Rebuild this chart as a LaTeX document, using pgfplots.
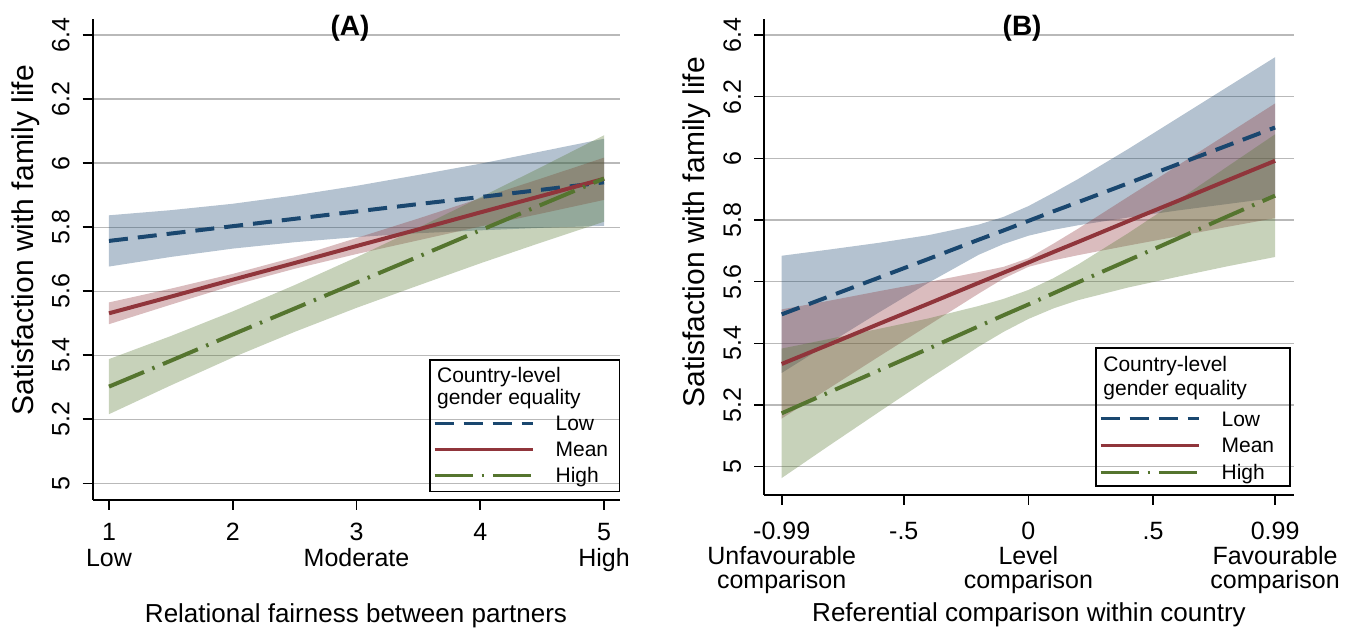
\documentclass[border=0pt]{standalone}
\usepackage{fontspec}
\setmainfont{Liberation Sans}
\usepackage{pgfplots}
\pgfplotsset{compat=1.18}
\usepackage{pgfplotstable}
\usepgfplotslibrary{fillbetween}
\definecolor{snavy}{RGB}{26,71,111}
\definecolor{smaroon}{RGB}{144,53,59}
\definecolor{sgreen}{RGB}{85,117,47}
\definecolor{sgrid}{RGB}{185,185,185}

% Panel A: x lo m hi
\pgfplotstableread{
x lo m hi
1 5.677 5.757 5.837
1.5 5.707 5.780 5.853
2 5.733 5.803 5.873
2.5 5.753 5.826 5.899
3 5.769 5.849 5.929
3.5 5.781 5.872 5.963
4 5.790 5.894 5.998
4.5 5.798 5.917 6.037
5 5.804 5.940 6.076
}\lowA
\pgfplotstableread{
x lo m hi
1 5.497 5.531 5.565
1.5 5.558 5.583 5.608
2 5.618 5.636 5.654
2.5 5.670 5.688 5.706
3 5.716 5.741 5.766
3.5 5.759 5.793 5.827
4 5.802 5.846 5.890
4.5 5.843 5.898 5.953
5 5.885 5.951 6.017
}\meanA
\pgfplotstableread{
x lo m hi
1 5.216 5.302 5.388
1.5 5.306 5.383 5.460
2 5.393 5.465 5.537
2.5 5.473 5.546 5.619
3 5.548 5.627 5.706
3.5 5.618 5.708 5.798
4 5.687 5.790 5.893
4.5 5.753 5.871 5.989
5 5.817 5.952 6.087
}\highA
% Panel B
\pgfplotstableread{
x lo m hi
-0.99 5.304 5.494 5.684
-0.8 5.400 5.552 5.704
-0.6 5.500 5.613 5.726
-0.4 5.597 5.674 5.751
-0.2 5.687 5.736 5.785
-0.1 5.722 5.766 5.810
0 5.749 5.797 5.845
0.1 5.768 5.828 5.888
0.2 5.783 5.858 5.933
0.4 5.808 5.919 6.030
0.6 5.831 5.981 6.131
0.8 5.852 6.042 6.232
0.99 5.872 6.100 6.328
}\lowB
\pgfplotstableread{
x lo m hi
-0.99 5.156 5.333 5.510
-0.8 5.254 5.396 5.538
-0.6 5.357 5.463 5.569
-0.4 5.459 5.529 5.599
-0.2 5.561 5.596 5.631
-0.1 5.610 5.629 5.648
0 5.648 5.662 5.676
0.1 5.669 5.696 5.723
0.2 5.686 5.729 5.772
0.4 5.717 5.796 5.875
0.6 5.747 5.862 5.977
0.8 5.778 5.929 6.080
0.99 5.806 5.992 6.178
}\meanB
\pgfplotstableread{
x lo m hi
-0.99 4.963 5.173 5.383
-0.8 5.068 5.241 5.414
-0.6 5.177 5.312 5.447
-0.4 5.285 5.383 5.481
-0.2 5.389 5.455 5.521
-0.1 5.437 5.491 5.544
0 5.479 5.526 5.573
0.1 5.513 5.562 5.611
0.2 5.540 5.598 5.656
0.4 5.581 5.669 5.757
0.6 5.616 5.740 5.864
0.8 5.650 5.812 5.974
0.99 5.680 5.879 6.078
}\highB

\pgfplotsset{
  stata/.style={
    scale only axis,
    clip mode=individual,
    axis x line*=bottom, axis y line*=left,
    axis line style={-, line width=1pt, black},
    tick align=outside, major tick length=5pt,
    tick style={black, line width=0.8pt},
    ymajorgrids, major grid style={sgrid, line width=0.6pt},
    ytick={5,5.2,5.4,5.6,5.8,6,6.2,6.4},
    /pgf/number format/assume math mode=true,
    yticklabel style={rotate=90, anchor=south, inner sep=0pt, font=\fontsize{12.5}{15}\selectfont},
    yticklabel shift=6.25pt,
    xticklabel style={align=center, anchor=north, inner sep=0pt},
    legend cell align=left,
    legend image code/.code={\draw[##1, line width=1.5pt] (0pt,0pt) -- (49pt,0pt);},
    title style={font=\bfseries\fontsize{14}{16}\selectfont, anchor=center, yshift=-6pt},
  },
  lowline/.style={snavy, line width=2pt, dash pattern=on 9.5pt off 5pt},
  meanline/.style={smaroon, line width=2pt},
  highline/.style={sgreen, line width=2pt, dash pattern=on 19pt off 4.5pt on 1.2pt off 4.5pt},
  band/.style={fill=#1, fill opacity=0.33, draw=none, forget plot},
}

\begin{document}
\begin{tikzpicture}

% ---------------- Panel A
\begin{axis}[stata,
  at={(46.25pt,67.5pt)}, anchor=south west,
  width=263.5pt, height=240.5pt,
  xmin=0.8667, xmax=5.125, ymin=4.948, ymax=6.45,
  xtick={1,2,3,4,5},
  xticklabels={{1\\Low},2,{3\\Moderate},4,{5\\High}},
  xticklabel style={font=\fontsize{12.5}{13}\selectfont},
  xticklabel shift=6.5pt,
  xlabel={Relational fairness between partners},
  x label style={at={(axis description cs:0.5,0)}, anchor=base, yshift=-61.5pt, font=\fontsize{13}{15}\selectfont},
  ylabel={Satisfaction with family life},
  y label style={at={(axis description cs:-0.1129,0.5405)}, anchor=base, font=\fontsize{15}{17}\selectfont},
  title={(A)},
  title style={at={(axis description cs:0.4886,0.981)}},
  legend style={at={(axis description cs:0.6461,0.1757)}, anchor=north west,
    draw=none, fill=none, inner sep=0pt, outer sep=0pt,
    row sep=5.4pt, column sep=10.8pt,
    font=\fontsize{10.5}{12}\selectfont,
    nodes={inner sep=0pt, text height=7.6pt, text depth=0pt}},
]
\addplot[draw=none, forget plot, name path=aLl] table[x=x,y=lo]{\lowA};
\addplot[draw=none, forget plot, name path=aLh] table[x=x,y=hi]{\lowA};
\addplot[band=snavy] fill between[of=aLl and aLh];
\addplot[draw=none, forget plot, name path=aMl] table[x=x,y=lo]{\meanA};
\addplot[draw=none, forget plot, name path=aMh] table[x=x,y=hi]{\meanA};
\addplot[band=smaroon] fill between[of=aMl and aMh];
\addplot[draw=none, forget plot, name path=aHl] table[x=x,y=lo]{\highA};
\addplot[draw=none, forget plot, name path=aHh] table[x=x,y=hi]{\highA};
\addplot[band=sgreen] fill between[of=aHl and aHh];
\addplot[lowline] table[x=x,y=m]{\lowA};
\addlegendentry{Low}
\addplot[meanline] table[x=x,y=m]{\meanA};
\addlegendentry{Mean}
\addplot[highline] table[x=x,y=m]{\highA};
\addlegendentry{High}
\draw[black, line width=0.8pt] (axis description cs:0.6404,0.0173) rectangle (axis description cs:1.0,0.2911);
\node[anchor=base west, inner sep=0pt, font=\fontsize{10.5}{12}\selectfont] at (axis description cs:0.6531,0.2453) {Country-level};
\node[anchor=base west, inner sep=0pt, font=\fontsize{10.5}{12}\selectfont] at (axis description cs:0.6531,0.1975) {gender equality};
\end{axis}

% ---------------- Panel B
\begin{axis}[stata,
  at={(382pt,70pt)}, anchor=south west,
  width=265pt, height=238pt,
  xmin=-1.061, xmax=1.066, ymin=4.908, ymax=6.452,
  xtick={-0.99,-0.5,0,0.5,0.99},
  xticklabels={{-0.99\\Unfavourable\\comparison},{-.5},{0\\Level\\comparison},{.5},{0.99\\Favourable\\comparison}},
  xticklabel style={font=\fontsize{12.5}{12.3}\selectfont},
  xticklabel shift=8.3pt,
  xlabel={Referential comparison within country},
  x label style={at={(axis description cs:0.5,0)}, anchor=base, yshift=-63.35pt, font=\fontsize{13}{15}\selectfont},
  ylabel={Satisfaction with family life},
  y label style={at={(axis description cs:-0.1123,0.5525)}, anchor=base, font=\fontsize{15}{17}\selectfont},
  title={(B)},
  title style={at={(axis description cs:0.487,0.981)}},
  legend style={at={(axis description cs:0.6321,0.1763)}, anchor=north west,
    draw=none, fill=none, inner sep=0pt, outer sep=0pt,
    row sep=5.75pt, column sep=10.8pt,
    font=\fontsize{10.5}{12}\selectfont,
    nodes={inner sep=0pt, text height=7.6pt, text depth=0pt}},
]
\addplot[draw=none, forget plot, name path=bLl] table[x=x,y=lo]{\lowB};
\addplot[draw=none, forget plot, name path=bLh] table[x=x,y=hi]{\lowB};
\addplot[band=snavy] fill between[of=bLl and bLh];
\addplot[draw=none, forget plot, name path=bMl] table[x=x,y=lo]{\meanB};
\addplot[draw=none, forget plot, name path=bMh] table[x=x,y=hi]{\meanB};
\addplot[band=smaroon] fill between[of=bMl and bMh];
\addplot[draw=none, forget plot, name path=bHl] table[x=x,y=lo]{\highB};
\addplot[draw=none, forget plot, name path=bHh] table[x=x,y=hi]{\highB};
\addplot[band=sgreen] fill between[of=bHl and bHh];
\addplot[lowline] table[x=x,y=m]{\lowB};
\addlegendentry{Low}
\addplot[meanline] table[x=x,y=m]{\meanB};
\addlegendentry{Mean}
\addplot[highline] table[x=x,y=m]{\highB};
\addlegendentry{High}
\draw[black, line width=0.8pt] (axis description cs:0.6264,0.0189) rectangle (axis description cs:0.9925,0.3088);
\node[anchor=base west, inner sep=0pt, font=\fontsize{10.5}{12}\selectfont] at (axis description cs:0.6396,0.2584) {Country-level};
\node[anchor=base west, inner sep=0pt, font=\fontsize{10.5}{12}\selectfont] at (axis description cs:0.6396,0.2080) {gender equality};
\end{axis}
\pgfresetboundingbox
\path[use as bounding box] (0pt,0pt) rectangle (679pt,317.5pt);
\end{tikzpicture}
\end{document}
